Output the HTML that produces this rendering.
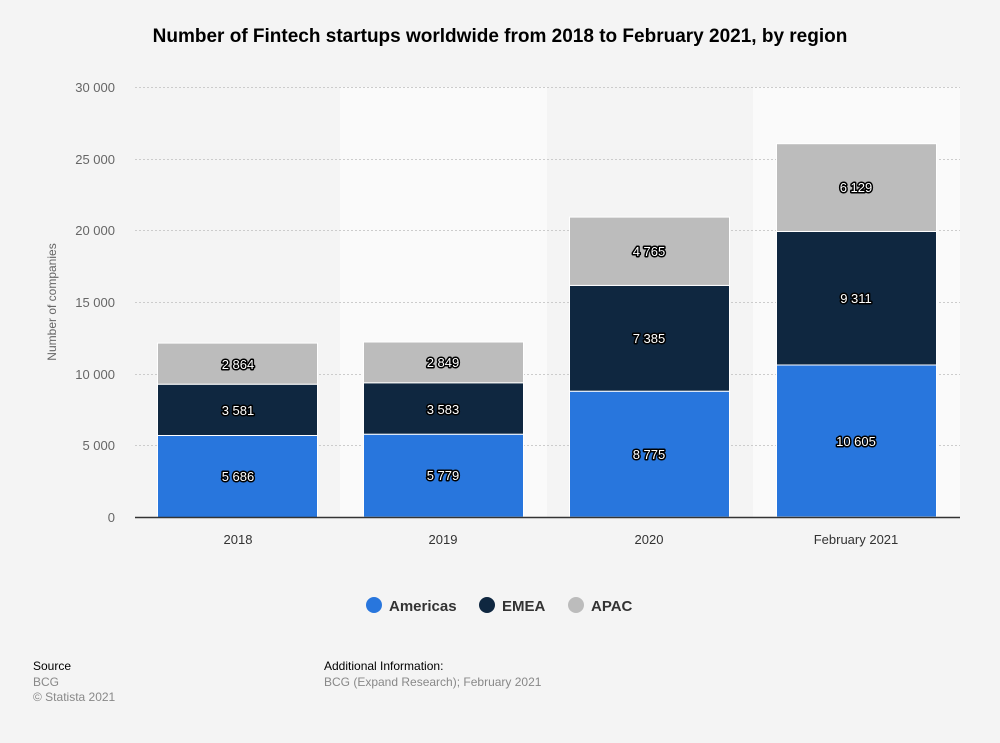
<!DOCTYPE html>
<html><head><meta charset="utf-8"><style>
html,body{margin:0;padding:0;background:#f4f4f4;}
svg{display:block;font-family:"Liberation Sans",Arial,sans-serif;}
.lbl{font-size:13px;fill:#fff;stroke:#000;stroke-width:3px;paint-order:stroke;stroke-linejoin:round;text-anchor:middle;}
.tick{font-size:13px;fill:#666;text-anchor:end;}
.xl{font-size:13px;fill:#333;text-anchor:middle;}
</style></head><body>
<svg width="1000" height="743" viewBox="0 0 1000 743">
<rect width="1000" height="743" fill="#f4f4f4"/>
<text x="500" y="42" text-anchor="middle" font-size="19" font-weight="bold" fill="#000">Number of Fintech startups worldwide from 2018 to February 2021, by region</text>
<rect x="340" y="87" width="207" height="430" fill="#fafafa"/>
<rect x="753" y="87" width="207" height="430" fill="#fafafa"/>
<g stroke="#ccc" stroke-dasharray="2,2" stroke-width="1">
<line x1="135" x2="960" y1="87.5" y2="87.5"/>
<line x1="135" x2="960" y1="159.5" y2="159.5"/>
<line x1="135" x2="960" y1="230.5" y2="230.5"/>
<line x1="135" x2="960" y1="302.5" y2="302.5"/>
<line x1="135" x2="960" y1="374.5" y2="374.5"/>
<line x1="135" x2="960" y1="445.5" y2="445.5"/>
</g>
<g class="tick">
<text x="115" y="92">30 000</text><text x="115" y="164">25 000</text><text x="115" y="235">20 000</text>
<text x="115" y="307">15 000</text><text x="115" y="379">10 000</text><text x="115" y="450">5 000</text><text x="115" y="522">0</text>
</g>
<text transform="translate(56,302) rotate(-90)" text-anchor="middle" font-size="12" fill="#666">Number of companies</text>
<g stroke="#fff" stroke-width="1">
<rect x="157.5" y="435.5" width="160" height="82" fill="#2876dd"/>
<rect x="157.5" y="384.2" width="160" height="51.3" fill="#0f2740"/>
<rect x="157.5" y="343.1" width="160" height="41.1" fill="#bcbcbc"/>
<rect x="363.5" y="434.2" width="160" height="83" fill="#2876dd"/>
<rect x="363.5" y="382.8" width="160" height="51.4" fill="#0f2740"/>
<rect x="363.5" y="342" width="160" height="40.8" fill="#bcbcbc"/>
<rect x="569.5" y="391.2" width="160" height="126" fill="#2876dd"/>
<rect x="569.5" y="285.4" width="160" height="105.8" fill="#0f2740"/>
<rect x="569.5" y="217.1" width="160" height="68.3" fill="#bcbcbc"/>
<rect x="776.5" y="365" width="160" height="152" fill="#2876dd"/>
<rect x="776.5" y="231.5" width="160" height="133.5" fill="#0f2740"/>
<rect x="776.5" y="143.7" width="160" height="87.8" fill="#bcbcbc"/>
</g>
<line x1="135" x2="960" y1="517.5" y2="517.5" stroke="#333" stroke-width="1.5"/>
<g class="lbl">
<text x="238" y="481">5 686</text><text x="238" y="415">3 581</text><text x="238" y="369">2 864</text>
<text x="443" y="480">5 779</text><text x="443" y="414">3 583</text><text x="443" y="367">2 849</text>
<text x="649" y="459">8 775</text><text x="649" y="343">7 385</text><text x="649" y="256">4 765</text>
<text x="856" y="446">10 605</text><text x="856" y="303">9 311</text><text x="856" y="192">6 129</text>
</g>
<g class="xl">
<text x="238" y="544">2018</text><text x="443" y="544">2019</text><text x="649" y="544">2020</text><text x="856" y="544">February 2021</text>
</g>
<g font-size="15" font-weight="bold" fill="#333">
<circle cx="374" cy="605" r="8" fill="#2876dd"/><text x="389" y="611">Americas</text>
<circle cx="487" cy="605" r="8" fill="#0f2740"/><text x="502" y="611">EMEA</text>
<circle cx="576" cy="605" r="8" fill="#bcbcbc"/><text x="591" y="611">APAC</text>
</g>
<g font-size="12">
<text x="33" y="670" fill="#000">Source</text>
<text x="33" y="686" fill="#888">BCG</text>
<text x="33" y="701" fill="#888">© Statista 2021</text>
<text x="324" y="670" fill="#000">Additional Information:</text>
<text x="324" y="686" fill="#888">BCG (Expand Research); February 2021</text>
</g>
</svg>
</body></html>
